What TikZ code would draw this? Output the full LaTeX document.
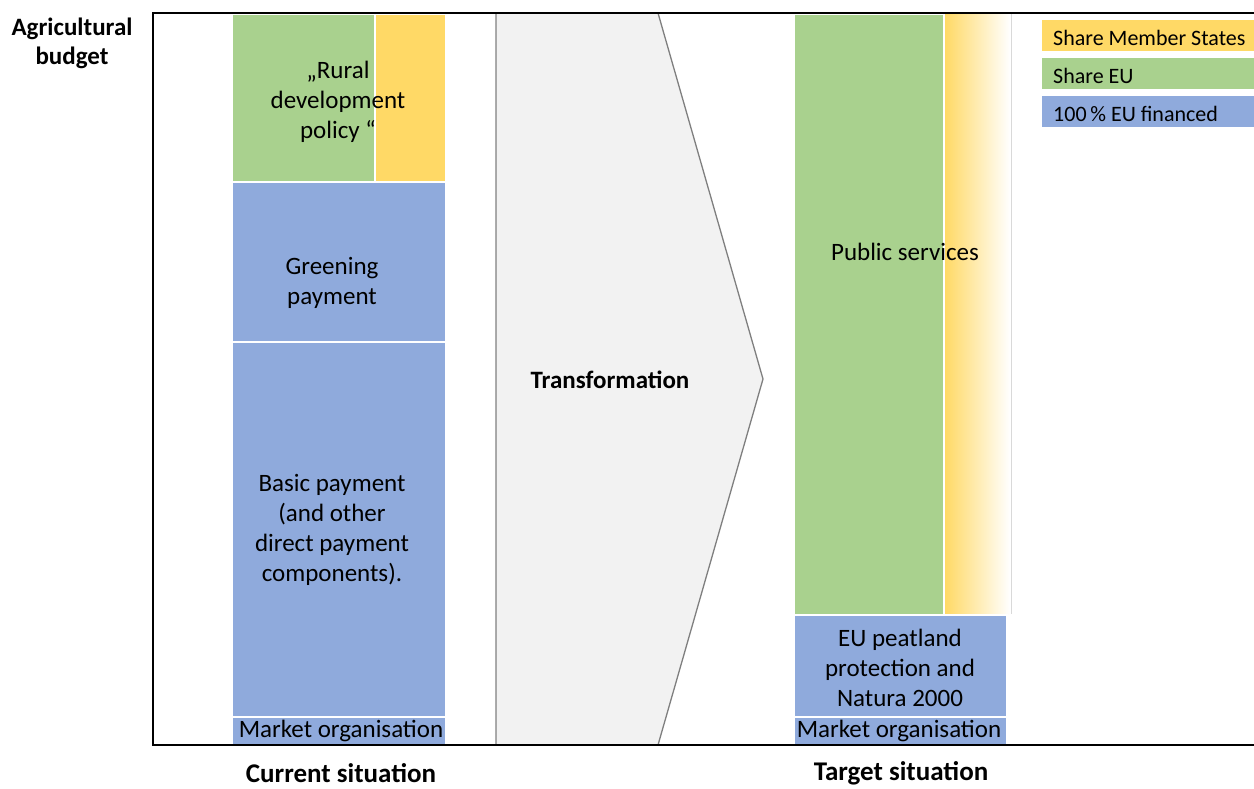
\documentclass[tikz,border=0pt]{standalone}
\usepackage{fontspec}
\setmainfont{Carlito}
\definecolor{cgreen}{HTML}{A9D18E}
\definecolor{cyellow}{HTML}{FFD966}
\definecolor{cblue}{HTML}{8FAADC}
\definecolor{cgrey}{HTML}{F2F2F2}
\definecolor{cedge}{HTML}{7F7F7F}
\begin{document}
\begin{tikzpicture}[x=1pt,y=-1pt,
  box/.style={draw=white, line width=1.5pt, inner sep=0pt, outer sep=0pt, anchor=north west},
  txt/.style={align=center, inner sep=0pt, font=\fontsize{25}{30}\selectfont},
  lgd/.style={anchor=north west, inner sep=0pt, outer sep=0pt, minimum width=212, minimum height=31},
  lgdtxt/.style={anchor=west, inner sep=0pt, font=\fontsize{22}{26}\selectfont},
  head/.style={align=center, inner sep=0pt, font=\fontsize{25}{29}\selectfont\bfseries},
  foot/.style={align=center, inner sep=0pt, font=\fontsize{27}{29}\selectfont\bfseries}]
\useasboundingbox (0,0) rectangle (1254,788);
% chevron
\draw[fill=cgrey, draw=cedge, line width=1.3pt] (496,13) -- (658,13) -- (763,379) -- (658,745) -- (496,745) -- cycle;
\node[head] (trans) at (610,380) {Transformation};
% left column
\node[box, fill=cgreen, minimum width=143, minimum height=168] (rurg) at (232,14) {};
\node[box, fill=cyellow, minimum width=71, minimum height=168] (rury) at (375,14) {};
\node[box, fill=cblue, minimum width=214, minimum height=160] (green) at (232,182) {};
\node[box, fill=cblue, minimum width=214, minimum height=375] (basic) at (232,342) {};
\node[box, fill=cblue, minimum width=214, minimum height=28] (mkt1) at (232,717) {};
\node[txt] (rurt) at (338,102) {„Rural\\development\\policy “};
\node[txt] (grt) at (332,283) {Greening\\payment};
\node[txt] (bat) at (332,530) {Basic payment\\(and other\\direct payment\\components).};
\node[txt] (mk1t) at (341,731) {Market organisation};
% right column
\shade[left color=cyellow, right color=white] (945,14) rectangle (1010,614);
\draw[draw=black!15, line width=0.8pt] (1011,14) -- (1011,614);
\node[box, draw=none, minimum width=65, minimum height=600] (puby) at (945,14) {};
\node[box, fill=cgreen, minimum width=150, minimum height=601] (pubg) at (794,14) {};
\node[box, fill=cblue, minimum width=213, minimum height=102] (peat) at (794,615) {};
\node[box, fill=cblue, minimum width=213, minimum height=28] (mkt2) at (794,717) {};
\node[txt] (pubt) at (905,252) {Public services};
\node[txt] (peatt) at (900,668) {EU peatland\\protection and\\Natura 2000};
\node[txt] (mk2t) at (899,731) {Market organisation};
% axes
\draw[line width=2.5pt] (1254,13) -- (153,13) -- (153,745) -- (1254,745);
% legend
\node[lgd, fill=cyellow] (l1) at (1042,20) {};
\node[lgd, fill=cgreen] (l2) at (1042,58) {};
\node[lgd, fill=cblue] (l3) at (1042,96) {};
\node[lgdtxt] (l1t) at (1053,38) {Share Member States};
\node[lgdtxt] (l2t) at (1053,76) {Share EU};
\node[lgdtxt] (l3t) at (1053,114) {100\,\% EU financed};
% headings
\node[head] (agr) at (72,43) {Agricultural\\budget};
\node[foot] (cur) at (341,773) {Current situation};
\node[foot] (tar) at (901,773) {Target situation};
\end{tikzpicture}
\end{document}
